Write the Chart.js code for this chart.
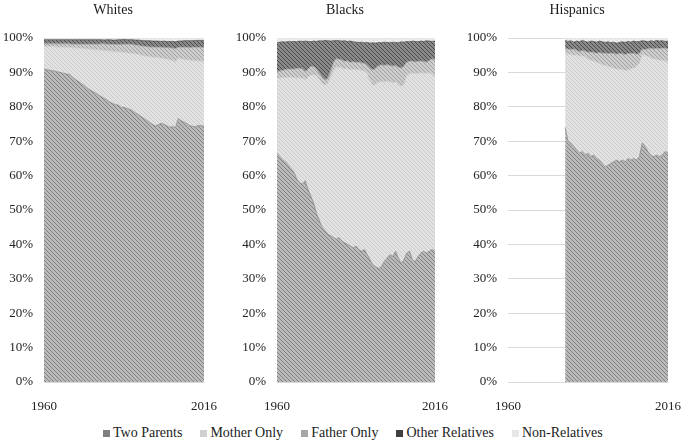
<!DOCTYPE html>
<html>
<head>
<meta charset="utf-8">
<script src="https://cdn.jsdelivr.net/npm/chart.js@4.4.1/dist/chart.umd.min.js"></script>
<style>
    html, body { margin: 0; padding: 0; background: #fff; overflow: hidden; }
    body { width: 685px; height: 443px; position: relative; font-family: 'Liberation Serif', 'Times New Roman', serif; }
    canvas { position: absolute; top: 0; }
    #legend { position: absolute; left: 103px; top: 424px; display: flex; gap: 18px; font-size: 14px; line-height: 18px; color: #222; white-space: nowrap; }
    .item { display: flex; align-items: center; }
    .swatch { width: 7px; height: 7px; margin-right: 3px; }
</style>
</head>
<body>
<canvas id="chartWhites" width="230" height="420" style="left:0px"></canvas>
<canvas id="chartBlacks" width="230" height="420" style="left:233px"></canvas>
<canvas id="chartHispanics" width="221" height="420" style="left:464px"></canvas>
<div id="legend"></div>
<script>
// years on the axis, 1960..2016
const years = Array.from({ length: 57 }, (_, i) => 1960 + i);
const hispYears = years.slice(20); // hispanic series begin in 1980
const xTickYears = [1960, 2016];

const seriesNames = ['Two Parents', 'Mother Only', 'Father Only', 'Other Relatives', 'Non-Relatives'];

// ---- Whites (%)
const whitesTwoParents = [91.0,90.8,90.6,90.5,90.3,90.1,89.9,89.7,89.5,89.4, 88.6,88.0,87.4,86.8,86.2,85.5,85.0,84.5,84.0,83.5,
    83.0,82.5,82.0,81.4,81.0,80.6,80.5,79.8,79.9,79.5, 79.3,78.8,78.2,77.8,77.2,76.6,76.0,75.4,74.9,74.4,
    74.8,75.2,74.9,74.5,74.0,74.3,73.9,76.6,76.0,75.5, 75.1,74.6,74.3,74.2,74.6,74.5,74.3];
const whitesMotherOnly = [6.6,6.8,6.9,7.0,7.2,7.3,7.5,7.6,7.8,7.9, 8.6,9.2,9.7,10.2,10.7,11.4,11.8,12.2,12.6,13.1,
    13.5,13.9,14.3,14.9,15.1,15.4,15.5,16.1,15.9,16.2, 16.3,16.7,17.2,17.4,17.8,18.3,18.7,19.2,19.6,20.0,
    19.5,19.0,19.1,19.4,19.7,19.1,19.1,17.6,18.0,18.3, 18.6,19.0,19.2,19.2,18.8,18.8,18.9];
const whitesFatherOnly = [0.7,0.7,0.8,0.8,0.8,0.9,0.9,1.0,1.0,1.0, 1.0,1.0,1.1,1.2,1.3,1.3,1.4,1.5,1.6,1.6,
    1.8,1.9,1.9,1.9,2.0,2.1,2.1,2.2,2.4,2.5, 2.6,2.6,2.6,2.7,2.7,2.7,2.8,2.8,2.9,2.9,
    3.0,3.1,3.2,3.3,3.5,3.7,3.9,3.1,3.3,3.5, 3.6,3.6,3.8,3.9,3.9,4.0,4.1];
const whitesOtherRelatives = [1.2,1.2,1.2,1.2,1.2,1.2,1.2,1.2,1.2,1.2, 1.3,1.3,1.3,1.3,1.3,1.3,1.3,1.3,1.3,1.3,
    1.2,1.1,1.3,1.3,1.3,1.3,1.4,1.4,1.4,1.3, 1.3,1.4,1.4,1.5,1.6,1.6,1.7,1.8,1.7,1.8,
    1.8,1.7,1.9,1.8,1.8,1.9,2.0,1.8,1.8,1.9, 1.9,2.0,1.9,2.0,2.0,2.0,2.0];
const whitesNonRelatives = [0.5,0.5,0.5,0.5,0.5,0.5,0.5,0.5,0.5,0.5, 0.5,0.5,0.5,0.5,0.5,0.5,0.5,0.5,0.5,0.5,
    0.5,0.6,0.5,0.5,0.6,0.6,0.5,0.5,0.4,0.5, 0.5,0.5,0.6,0.6,0.7,0.8,0.8,0.8,0.9,0.9,
    0.9,1.0,0.9,1.0,1.0,1.0,1.1,0.9,0.9,0.8, 0.8,0.8,0.8,0.7,0.7,0.7,0.7];

// ---- Blacks (%)
const blacksTwoParents = [66.5,65.5,64.5,64.0,63.0,62.0,61.0,59.0,58.0,57.5, 58.5,56.0,54.0,52.0,49.0,47.0,45.0,44.0,43.0,42.5,
    42.0,41.5,42.0,41.0,40.5,40.0,39.5,39.0,39.5,38.5, 38.0,38.5,37.0,35.5,34.0,33.5,33.0,33.5,35.0,36.0,
    37.0,36.5,38.0,36.0,34.5,35.5,37.5,38.0,35.5,35.0, 36.5,37.5,38.0,37.5,38.0,38.5,38.0];
const blacksMotherOnly = [21.9,22.9,24.0,24.5,25.6,26.6,27.5,29.4,30.5,30.8, 29.4,32.6,35.2,37.4,40.0,41.0,41.8,42.3,43.8,46.0,
    48.5,50.2,49.5,50.3,50.5,51.2,51.3,52.0,51.2,52.4, 52.6,51.9,52.5,52.0,52.3,53.0,54.2,53.9,52.2,51.5,
    50.3,50.5,49.2,50.5,51.5,50.9,51.7,51.6,54.3,54.7, 53.3,52.4,51.8,52.2,51.9,50.9,50.7];
const blacksFatherOnly = [1.8,2.0,2.1,2.3,2.4,2.4,2.5,2.7,2.7,2.7, 2.3,2.4,2.5,2.3,2.0,1.8,1.7,1.5,1.4,2.0,
    2.3,2.4,2.3,2.3,2.2,2.2,2.1,2.2,2.1,2.1, 2.2,2.2,2.5,3.7,4.4,4.7,4.7,4.8,4.8,4.8,
    4.7,4.8,4.8,5.1,5.2,5.4,3.8,3.6,3.5,3.3, 3.4,3.4,3.3,3.3,3.5,4.6,4.9];
const blacksOtherRelatives = [8.4,8.4,8.3,8.0,8.0,7.9,8.0,7.8,7.9,8.0, 8.9,8.0,7.2,7.4,8.0,9.4,10.6,11.5,11.0,8.6,
    6.4,5.2,5.4,5.5,6.0,5.6,6.2,5.7,6.0,5.7, 6.0,6.0,6.7,7.3,7.9,7.3,6.8,6.4,6.8,6.4,
    6.6,7.0,6.7,7.0,7.7,7.0,6.0,5.7,5.8,6.0, 5.7,5.8,5.9,6.2,5.7,5.0,5.5];
const blacksNonRelatives = [1.4,1.2,1.1,1.2,1.0,1.1,1.0,1.1,0.9,1.0, 0.9,1.0,1.1,0.9,1.0,0.8,0.9,0.7,0.8,0.9,
    0.8,0.7,0.8,0.9,0.8,1.0,0.9,1.1,1.2,1.3, 1.2,1.4,1.3,1.5,1.4,1.5,1.3,1.4,1.2,1.3,
    1.4,1.2,1.3,1.4,1.1,1.2,1.0,1.1,0.9,1.0, 1.1,0.9,1.0,0.8,0.9,1.0,0.9];

// ---- Hispanics (%), 1980..2016
const hispTwoParents = [74.0,70.0,69.5,68.5,67.5,66.5,67.0,66.0,66.5,65.5, 66.0,65.0,64.5,63.5,62.5,63.0,63.5,64.0,64.5,64.0,
    64.5,64.0,65.0,64.5,65.0,64.5,65.5,69.5,68.5,67.0, 66.0,65.5,66.0,65.5,66.0,67.0,66.5];
const hispMotherOnly = [21.6,25.4,25.8,26.5,27.7,28.3,27.9,28.4,27.5,28.1, 27.2,28.0,28.1,28.8,29.5,28.8,28.0,27.3,26.5,26.9,
    26.3,26.6,25.7,26.5,26.3,27.3,27.3,25.8,26.5,27.6, 28.2,28.5,27.8,28.1,27.5,26.3,26.6];
const hispFatherOnly = [1.4,1.4,1.3,1.8,1.3,1.2,1.5,1.8,1.8,2.3, 2.6,2.6,3.2,3.2,3.6,3.6,4.1,4.2,4.3,4.6,
    4.6,4.6,4.8,4.4,4.3,3.5,2.7,1.5,1.6,2.3, 2.8,2.8,3.2,3.3,3.6,3.7,3.7];
const hispOtherRelatives = [2.3,2.2,2.6,2.0,2.6,2.9,2.9,2.8,3.0,3.2, 3.2,3.2,3.3,3.4,3.1,3.5,3.0,3.3,3.2,3.2,
    3.5,3.5,3.5,3.4,3.5,3.6,3.5,2.4,2.5,2.0, 2.2,2.2,2.3,2.2,2.1,2.0,2.3];
const hispNonRelatives = [0.7,1.0,0.8,1.2,0.9,1.1,0.7,1.0,1.2,0.9, 1.0,1.2,0.9,1.1,1.3,1.1,1.4,1.2,1.5,1.3,
    1.1,1.3,1.0,1.2,0.9,1.1,1.0,0.8,0.9,1.1, 0.8,1.0,0.7,0.9,0.8,1.0,0.9];

Chart.defaults.font.family = "'Liberation Serif', 'Times New Roman', serif";
Chart.defaults.color = '#222';

// small diagonal hatch tile used as area fill
function hatch(bg, line) {
    const c = document.createElement('canvas');
    c.width = 4; c.height = 4;
    const g = c.getContext('2d');
    g.fillStyle = bg;
    g.fillRect(0, 0, 4, 4);
    g.strokeStyle = line;
    g.lineWidth = 1;
    g.beginPath();
    g.moveTo(-1, -1); g.lineTo(5, 5);
    g.moveTo(-1, 3);  g.lineTo(1, 5);
    g.moveTo(3, -1);  g.lineTo(5, 1);
    g.stroke();
    return g.createPattern(c, 'repeat');
}

const fills   = [hatch('#bababa', '#808080'), hatch('#e2e2e2', '#cacaca'), hatch('#cdcdcd', '#a0a0a0'),
                 hatch('#8a8a8a', '#4a4a4a'), hatch('#eeeeee', '#e0e0e0')];
const borders = ['#858585', '#c8c8c8', '#9c9c9c', '#505050', '#dddddd'];
const swatchColors = ['#7f7f7f', '#d0d0d0', '#a6a6a6', '#3f3f3f', '#e7e7e7'];

const panelTitle = {
    id: 'panelTitle',
    afterDraw(chart, args, opts) {
        const { ctx, chartArea } = chart;
        ctx.save();
        ctx.font = "14px 'Liberation Serif', 'Times New Roman', serif";
        ctx.fillStyle = '#1a1a1a';
        ctx.textAlign = 'center';
        ctx.textBaseline = 'middle';
        ctx.fillText(opts.text, (chartArea.left + chartArea.right) / 2 + opts.shift, 10);
        ctx.restore();
    }
};

function makePanel(canvasId, title, xs, seriesList, padRight) {
    const datasets = seriesList.map((values, i) => ({
        label: seriesNames[i],
        data: values.map((v, k) => ({ x: xs[k], y: v })),
        backgroundColor: fills[i],
        borderColor: borders[i],
        borderWidth: 0.75,
        pointRadius: 0,
        tension: 0,
        fill: i === 0 ? 'origin' : '-1'
    }));

    new Chart(document.getElementById(canvasId), {
        type: 'line',
        data: { datasets: datasets },
        plugins: [panelTitle],
        options: {
            responsive: false,
            animation: false,
            devicePixelRatio: 1,
            layout: { padding: { left: 3, right: padRight, top: 38, bottom: 4 } },
            plugins: {
                legend: { display: false },
                tooltip: { enabled: false },
                panelTitle: { text: title, shift: -11 }
            },
            scales: {
                x: {
                    type: 'linear',
                    min: 1960,
                    max: 2016,
                    grid: { display: false },
                    border: { display: false },
                    afterBuildTicks: s => { s.ticks = xTickYears.map(v => ({ value: v })); },
                    afterFit: s => { s.paddingLeft = 0; s.paddingRight = 0; s.height = 34; },
                    ticks: { autoSkip: false, maxRotation: 0, padding: 9, font: { size: 13 }, callback: v => String(v) }
                },
                y: {
                    stacked: true,
                    min: 0,
                    max: 100,
                    border: { display: false },
                    grid: { color: '#d9d9d9', drawTicks: false },
                    afterFit: s => { s.width = 41; s.paddingTop = 0; s.paddingBottom = 0; },
                    ticks: { stepSize: 10, padding: 11, font: { size: 13 }, callback: v => v + '%' }
                }
            }
        }
    });
}

makePanel('chartWhites', 'Whites', years,
    [whitesTwoParents, whitesMotherOnly, whitesFatherOnly, whitesOtherRelatives, whitesNonRelatives], 26);
makePanel('chartBlacks', 'Blacks', years,
    [blacksTwoParents, blacksMotherOnly, blacksFatherOnly, blacksOtherRelatives, blacksNonRelatives], 28);
makePanel('chartHispanics', 'Hispanics', hispYears,
    [hispTwoParents, hispMotherOnly, hispFatherOnly, hispOtherRelatives, hispNonRelatives], 17);

// shared legend under the three panels
const legend = document.getElementById('legend');
seriesNames.forEach((name, i) => {
    const item = document.createElement('div');
    item.className = 'item';
    item.innerHTML = `<span class="swatch" style="background:${swatchColors[i]}"></span>${name}`;
    legend.appendChild(item);
});
</script>
</body>
</html>
